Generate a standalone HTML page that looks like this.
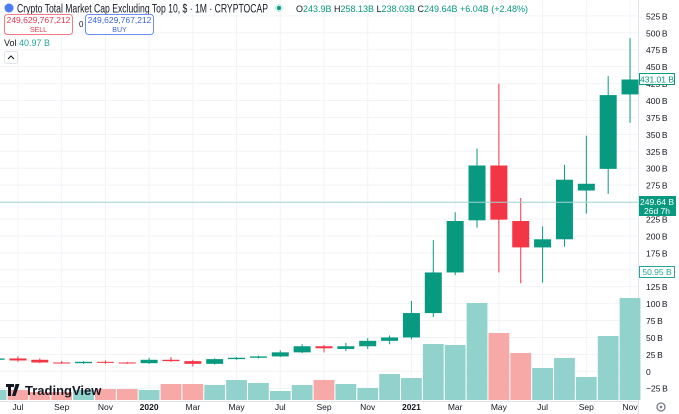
<!DOCTYPE html>
<html><head><meta charset="utf-8"><style>
body{margin:0;width:679px;height:414px;overflow:hidden;background:#fff;font-family:"Liberation Sans",sans-serif}
svg{display:block}
</style></head><body>
<svg id="chart" width="679" height="414" xmlns="http://www.w3.org/2000/svg">
<g id="grid"></g>
<g id="vol"></g>
<g id="candles"></g>
<g id="axis"></g>
<g id="xaxis"></g>
<line x1="0" x2="638" y1="202.3" y2="202.3" stroke="#9fd6cf" stroke-width="1"/>
<g font-size="10.5">
 <circle cx="9" cy="8" r="4.5" fill="#4a7cf4"/>
 <text x="17" y="12.5" font-size="11.5" fill="#131722" textLength="251" lengthAdjust="spacingAndGlyphs">Crypto Total Market Cap Excluding Top 10, $ · 1M · CRYPTOCAP</text>
 <circle cx="279" cy="8" r="4" fill="#c8ebe6"/><circle cx="279" cy="8" r="2" fill="#089981"/>
 <text x="296" y="12" font-size="9" fill="#089981" textLength="232" lengthAdjust="spacingAndGlyphs"><tspan fill="#131722">O</tspan>243.9B <tspan fill="#131722">H</tspan>258.13B <tspan fill="#131722">L</tspan>238.03B <tspan fill="#131722">C</tspan>249.64B +6.04B (+2.48%)</text>
 <rect x="4.5" y="14.5" width="68" height="20" rx="3" fill="#fff" stroke="#f27c85"/>
 <text x="38.5" y="23" font-size="8.5" fill="#e2394c" text-anchor="middle">249,629,767,212</text>
 <text x="38.5" y="32" font-size="7" fill="#e2394c" text-anchor="middle">SELL</text>
 <text x="79" y="27" font-size="8" fill="#131722">0</text>
 <rect x="85.5" y="14.5" width="68" height="20" rx="3" fill="#fff" stroke="#6e8ef0"/>
 <text x="119.5" y="23" font-size="8.5" fill="#3a64e0" text-anchor="middle">249,629,767,212</text>
 <text x="119.5" y="32" font-size="7" fill="#3a64e0" text-anchor="middle">BUY</text>
 <text x="4" y="46" font-size="9" fill="#131722">Vol <tspan fill="#26a69a">40.97 B</tspan></text>
 <rect x="4.5" y="51.5" width="13" height="12" rx="2" fill="#fff" stroke="#e0e3eb"/>
 <path d="M8 59 L11 56 L14 59" fill="none" stroke="#131722" stroke-width="1"/>
</g>
<g>
 <path d="M6 384h8v3h-3v9h-3v-9h-2z M15.5 384h4l-4 12h-3.5z" fill="#131722"/>
 <circle cx="17" cy="386" r="1.6" fill="#131722"/>
 <text x="25" y="395" font-size="13" font-weight="bold" fill="#131722">TradingView</text>
</g>
<g><circle cx="661" cy="407" r="4" fill="none" stroke="#787b86" stroke-width="1.3"/><circle cx="661" cy="407" r="1.3" fill="#787b86"/></g>
</svg>
<script>
const months=["Jun","Jul","Aug","Sep","Oct","Nov","Dec","2020","Feb","Mar","Apr","May","Jun","Jul","Aug","Sep","Oct","Nov","Dec","2021","Feb","Mar","Apr","May","Jun","Jul","Aug","Sep","Oct","Nov"];
const opens =[17,19,17,13,12,14,13,12,17,15,11,18,20,22,28,37,33,37,45,50,86,146,223,304,222,183,195,267,299,409];
const highs =[20,22,19,15,15,16,14,20,21,17,19,21,23,31,40,39,42,49,53,104,194,235,329,425,256,214,305,348,436,492];
const lows  =[15,14,12,11,11,11,11,11,14,7,10,17,19,21,27,28,30,33,40,47,80,142,212,146,130,131,184,233,262,367];
const closes=[19,16,13,12,14,12.5,12,17,15,11,18,20,22,28,37,34,37,45,50,86,146,222,304,224,183,195,283,277,408,431];
const volumes=[5,5,4,4,5,5.5,5.5,5,8,8,7.5,10,8.5,4.5,7.5,10,8,6,13,11,28,27.5,48.5,33.5,23.5,16,21,11.5,32,51];
const priceTicks=[-25,0,25,50,75,100,125,150,175,200,225,250,275,300,325,350,375,400,425,450,475,500,525];
const timeLabels=["Jul","Sep","Nov","2020","Mar","May","Jul","Sep","Nov","2021","Mar","May","Jul","Sep","Nov"];
const timeLabelIdx=[1,3,5,7,9,11,13,15,17,19,21,23,25,27,29];
const NS="http://www.w3.org/2000/svg";
const xOf=i=>-3.9+i*21.86;
const yOf=v=>371.3-v*0.677;
const vOf=v=>400-v*2.0;
function mk(tag,attrs,parent){const e=document.createElementNS(NS,tag);for(const k in attrs)e.setAttribute(k,attrs[k]);parent.appendChild(e);return e;}
const grid=document.getElementById('grid'),vol=document.getElementById('vol'),cg=document.getElementById('candles'),ax=document.getElementById('axis'),xa=document.getElementById('xaxis');
priceTicks.forEach(t=>{
 const y=yOf(t);
 const l=mk('line',{x1:0,x2:638,y1:y,y2:y,stroke:'#f2f3f6'},grid);
 
 
 const tx=mk('text',{x:646,y:y+3.5,'font-size':8.5,fill:'#131722'},ax);
 tx.textContent=t===0?'0':(t+'\u2009B').replace('-','\u2212');
 
 
});
timeLabelIdx.forEach((idx,k)=>{
 const x=xOf(idx);
 const l=mk('line',{x1:x,x2:x,y1:0,y2:401,stroke:'#f2f3f6'},grid);
 
 
 const tx=mk('text',{x:x,y:410,'font-size':8.5,fill:'#131722','text-anchor':'middle','font-weight':timeLabels[k].length===4?'bold':'normal'},xa);
 tx.textContent=timeLabels[k];
 
 
});
mk('line',{x1:638.5,x2:638.5,y1:0,y2:414,stroke:'#e0e3eb'},grid);
mk('line',{x1:0,x2:638,y1:401.5,y2:401.5,stroke:'#e0e3eb'},grid);
months.forEach((m,i)=>{
 const x=xOf(i),up=closes[i]>=opens[i];
 const b=mk('rect',{x:x-10.4,y:vOf(volumes[i]),width:20.8,height:400-vOf(volumes[i]),fill:up?'#92d2cc':'#f7a9a7'},vol);
 
 
 const col=up?'#089981':'#f23645';
 const w=mk('line',{x1:x,x2:x,y1:yOf(highs[i]),y2:yOf(lows[i]),stroke:col,'stroke-width':1},cg);
 
 
 const top=yOf(Math.max(opens[i],closes[i])),bot=yOf(Math.min(opens[i],closes[i]));
 const r=mk('rect',{x:x-8.5,y:top,width:17,height:Math.max(1,bot-top),fill:col},cg);
 
 
});
const last=closes[closes.length-1];
const g1=mk('g',{},ax);


mk('rect',{x:639.5,y:yOf(last)-6,width:35,height:11,fill:'#fff',stroke:'#089981'},g1);
mk('text',{x:657,y:yOf(last)+3,'font-size':8.5,fill:'#089981','text-anchor':'middle'},g1).textContent='431.01 B';
const g2=mk('g',{},ax);


mk('rect',{x:639,y:196,width:37,height:20,fill:'#089981'},g2);
mk('text',{x:657,y:205,'font-size':8.5,fill:'#fff','text-anchor':'middle'},g2).textContent='249.64 B';
mk('text',{x:657,y:214,'font-size':8.5,fill:'#fff','text-anchor':'middle'},g2).textContent='26d 7h';
const g3=mk('g',{},ax);


mk('rect',{x:639.5,y:266.5,width:35,height:11,fill:'#fff',stroke:'#26a69a'},g3);
mk('text',{x:657,y:275,'font-size':8.5,fill:'#26a69a','text-anchor':'middle'},g3).textContent='50.95 B';
</script>
</body></html>
